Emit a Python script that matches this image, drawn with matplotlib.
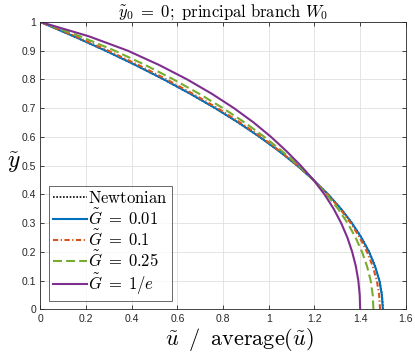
import matplotlib
matplotlib.use('Agg')
import matplotlib.pyplot as plt
from matplotlib.ticker import FormatStrFormatter

# wall-normal coordinate (same for every curve)
y = [0, 0.05, 0.1, 0.15, 0.2, 0.25, 0.3, 0.35, 0.4, 0.45, 0.5,
     0.55, 0.6, 0.65, 0.7, 0.75, 0.8, 0.85, 0.9, 0.95, 1.0]

# velocity / average velocity
u_newt = [1.5, 1.496, 1.485, 1.466, 1.44, 1.406, 1.365, 1.316, 1.26, 1.196, 1.125,
          1.046, 0.96, 0.866, 0.765, 0.656, 0.54, 0.416, 0.285, 0.146, 0.0]
u_g001 = [1.499, 1.495, 1.484, 1.465, 1.439, 1.405, 1.364, 1.316, 1.26, 1.196, 1.125,
          1.046, 0.96, 0.867, 0.766, 0.657, 0.541, 0.417, 0.286, 0.147, 0.0]
u_g01 = [1.487, 1.483, 1.473, 1.455, 1.43, 1.398, 1.359, 1.312, 1.258, 1.196, 1.127,
         1.05, 0.967, 0.875, 0.776, 0.668, 0.553, 0.43, 0.298, 0.155, 0.0]
u_g025 = [1.458, 1.455, 1.446, 1.43, 1.408, 1.38, 1.345, 1.303, 1.253, 1.196, 1.131,
          1.059, 0.981, 0.895, 0.8, 0.696, 0.583, 0.46, 0.326, 0.174, 0.0]
u_ginv = [1.4, 1.398, 1.392, 1.381, 1.365, 1.344, 1.317, 1.284, 1.244, 1.196, 1.14,
          1.078, 1.01, 0.934, 0.848, 0.751, 0.643, 0.521, 0.383, 0.213, 0.0]

labels = [r'$\mathrm{Newtonian}$', r'$\tilde{G}\;=\;0.01$', r'$\tilde{G}\;=\;0.1$',
          r'$\tilde{G}\;=\;0.25$', r'$\tilde{G}\;=\;1/e$']

xticks = [0, 0.2, 0.4, 0.6, 0.8, 1, 1.2, 1.4, 1.6]
yticks = [0, 0.1, 0.2, 0.3, 0.4, 0.5, 0.6, 0.7, 0.8, 0.9, 1]

plt.rcParams['mathtext.fontset'] = 'cm'
plt.rcParams['font.family'] = ['Liberation Sans', 'DejaVu Sans']

fig = plt.figure(figsize=(4.15, 3.54), dpi=100)
ax = fig.add_axes([0.097, 0.126, 0.881, 0.812])

ax.plot(u_newt, y, color='k', lw=1.2, ls=(0, (1, 1)), label=labels[0])
ax.plot(u_g001, y, color='#0072BD', lw=1.5, ls='-', label=labels[1])
ax.plot(u_g01, y, color='#D95319', lw=1.5, ls=(0, (2.5, 1.2, 0.6, 1.2)), label=labels[2])
ax.plot(u_g025, y, color='#77AC30', lw=1.5, ls=(0, (4.3, 2.0)), label=labels[3])
ax.plot(u_ginv, y, color='#7E2F8E', lw=1.5, ls='-', label=labels[4])

ax.set_xlim(0, 1.6)
ax.set_ylim(0, 1)
ax.set_xticks(xticks)
ax.set_yticks(yticks)
ax.xaxis.set_major_formatter(FormatStrFormatter('%g'))
ax.yaxis.set_major_formatter(FormatStrFormatter('%g'))
ax.tick_params(direction='in', length=3, width=0.6, labelsize=7.5, colors='#262626',
               top=True, right=True, pad=3)
ax.grid(True, color='#dfdfdf', lw=0.6)
ax.set_axisbelow(True)
for s in ax.spines.values():
    s.set_color('#262626')
    s.set_linewidth(0.6)

ax.set_title(r'$\tilde{y}_0\;=\;0;\ \mathrm{principal\ branch}\ W_0$', fontsize=12, pad=4)
ax.set_xlabel(r'$\tilde{u}\;\;/\;\;\mathrm{average}(\tilde{u})$', fontsize=16)
ax.xaxis.set_label_coords(0.545, -0.058)
ax.set_ylabel(r'$\tilde{y}$', fontsize=17, rotation=0, va='center')
ax.yaxis.set_label_coords(-0.072, 0.51)

leg = ax.legend(loc='lower left', bbox_to_anchor=(0.0246, 0.03), borderaxespad=0,
                fontsize=12, frameon=True, fancybox=False, handlelength=2.0,
                handletextpad=0.1, labelspacing=0.02, borderpad=0.25)
leg.get_frame().set_edgecolor('#262626')
leg.get_frame().set_linewidth(0.6)

fig.savefig('out.png', dpi=100)
